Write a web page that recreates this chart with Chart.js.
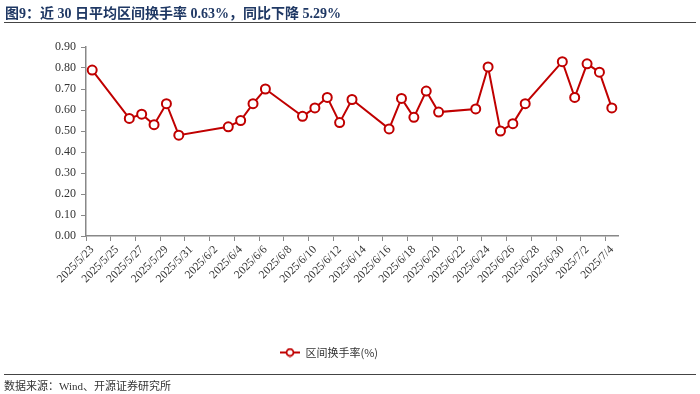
<!DOCTYPE html>
<html>
<head>
<meta charset="utf-8">
<script src="https://cdn.jsdelivr.net/npm/chart.js@4"></script>
<style>
body { margin: 0; width: 700px; height: 394px; background: #fff; position: relative; overflow: hidden; }
canvas { position: absolute; left: 0; top: 0; }
#title { position: absolute; left: 5px; top: 2px; line-height: 16px; font: bold 14px "Liberation Serif", "Noto Sans CJK SC"; color: #1f3864; white-space: nowrap; }
.rule { position: absolute; left: 4px; right: 4px; height: 0; border-top: 1.5px solid #444; }
#src { position: absolute; left: 4px; top: 377px; line-height: 14px; font: 11px "Liberation Serif", "Noto Sans CJK SC"; color: #333; white-space: nowrap; }
</style>
</head>
<body>
<canvas id="turnover-chart" width="700" height="394"></canvas>
<div id="title">图9：近 30 日平均区间换手率 0.63%，同比下降 5.29%</div>
<div class="rule" style="top:22px"></div>
<div class="rule" style="top:374px"></div>
<div id="src">数据来源：Wind、开源证券研究所</div>
<script>
// trading days and turnover (%)
var tradeDates = ['2025/5/23', '2025/5/26', '2025/5/27', '2025/5/28', '2025/5/29', '2025/5/30',
  '2025/6/3', '2025/6/4', '2025/6/5', '2025/6/6', '2025/6/9', '2025/6/10', '2025/6/11', '2025/6/12',
  '2025/6/13', '2025/6/16', '2025/6/17', '2025/6/18', '2025/6/19', '2025/6/20', '2025/6/23',
  '2025/6/24', '2025/6/25', '2025/6/26', '2025/6/27', '2025/6/30', '2025/7/1', '2025/7/2',
  '2025/7/3', '2025/7/4'];
var turnover = [0.79, 0.56, 0.58, 0.53, 0.63, 0.48,
  0.52, 0.55, 0.63, 0.70, 0.57, 0.61, 0.66, 0.54,
  0.65, 0.51, 0.655, 0.565, 0.69, 0.59, 0.605,
  0.805, 0.50, 0.535, 0.63, 0.83, 0.66, 0.82,
  0.78, 0.61];
var seriesName = '区间换手率(%)';
var yTicks = [0, 0.1, 0.2, 0.3, 0.4, 0.5, 0.6, 0.7, 0.8, 0.9];

// calendar axis: every day from first to last trading day
function calendarDays(first, last) {
  var days = [];
  var p = first.split('/'), q = last.split('/');
  var d = new Date(+p[0], +p[1] - 1, +p[2]);
  var end = new Date(+q[0], +q[1] - 1, +q[2]);
  while (d <= end) {
    days.push(d.getFullYear() + '/' + (d.getMonth() + 1) + '/' + d.getDate());
    d.setDate(d.getDate() + 1);
  }
  return days;
}

var labels = calendarDays(tradeDates[0], tradeDates[tradeDates.length - 1]);
var values = labels.map(function(l) {
  var i = tradeDates.indexOf(l);
  return i < 0 ? null : turnover[i];
});

var red = '#c00000';

// legend marker: short line with hollow circle
var marker = document.createElement('canvas');
marker.width = 20;
marker.height = 10;
var mc = marker.getContext('2d');
mc.strokeStyle = red;
mc.lineWidth = 2;
mc.beginPath(); mc.moveTo(0, 5); mc.lineTo(20, 5); mc.stroke();
mc.fillStyle = '#fff';
mc.lineWidth = 1.8;
mc.beginPath(); mc.arc(10, 5, 3.5, 0, Math.PI * 2); mc.fill(); mc.stroke();

var ctx = document.getElementById('turnover-chart').getContext('2d');
new Chart(ctx, {
  type: 'line',
  data: {
    labels: labels,
    datasets: [{
      label: seriesName,
      data: values,
      spanGaps: true,
      borderColor: red,
      borderWidth: 2,
      tension: 0,
      pointRadius: 4.5,
      pointHoverRadius: 4.5,
      pointBackgroundColor: '#fff',
      pointBorderColor: red,
      pointBorderWidth: 2
    }]
  },
  options: {
    responsive: false,
    animation: false,
    devicePixelRatio: 1,
    layout: { padding: { left: 40, right: 82, top: 47, bottom: 26 } },
    plugins: {
      tooltip: { enabled: false },
      legend: {
        position: 'bottom',
        labels: {
          usePointStyle: true,
          pointStyle: marker,
          pointStyleWidth: 20,
          padding: 10,
          color: '#333',
          font: { family: 'Noto Sans CJK SC', size: 11 }
        }
      }
    },
    scales: {
      x: {
        type: 'category',
        offset: true,
        grid: {
          offset: true,
          drawOnChartArea: false,
          tickLength: 5,
          tickWidth: 1,
          tickColor: function(c) {
            return (c.type === 'tick' && c.index % 2 === 0) ? '#888' : 'rgba(0,0,0,0)';
          }
        },
        border: { color: '#888', width: 1.5 },
        ticks: {
          autoSkip: false,
          maxRotation: 45,
          minRotation: 45,
          padding: 2,
          color: '#333',
          font: { family: 'Liberation Serif', size: 11.5 },
          callback: function(v, i) { return i % 2 === 0 ? labels[i] : ''; }
        },
        afterFit: function(s) { s.height = 101; }
      },
      y: {
        min: yTicks[0],
        max: yTicks[yTicks.length - 1],
        afterBuildTicks: function(s) {
          s.ticks = yTicks.map(function(v) { return { value: v }; });
        },
        grid: { drawOnChartArea: false, tickLength: 5, tickColor: '#888' },
        border: { color: '#888', width: 1.5 },
        ticks: {
          padding: 5,
          color: '#333',
          font: { family: 'Liberation Serif', size: 12 },
          callback: function(v) { return Number(v).toFixed(2); }
        },
        afterFit: function(s) { s.width = 46; }
      }
    }
  }
});
</script>
</body>
</html>
